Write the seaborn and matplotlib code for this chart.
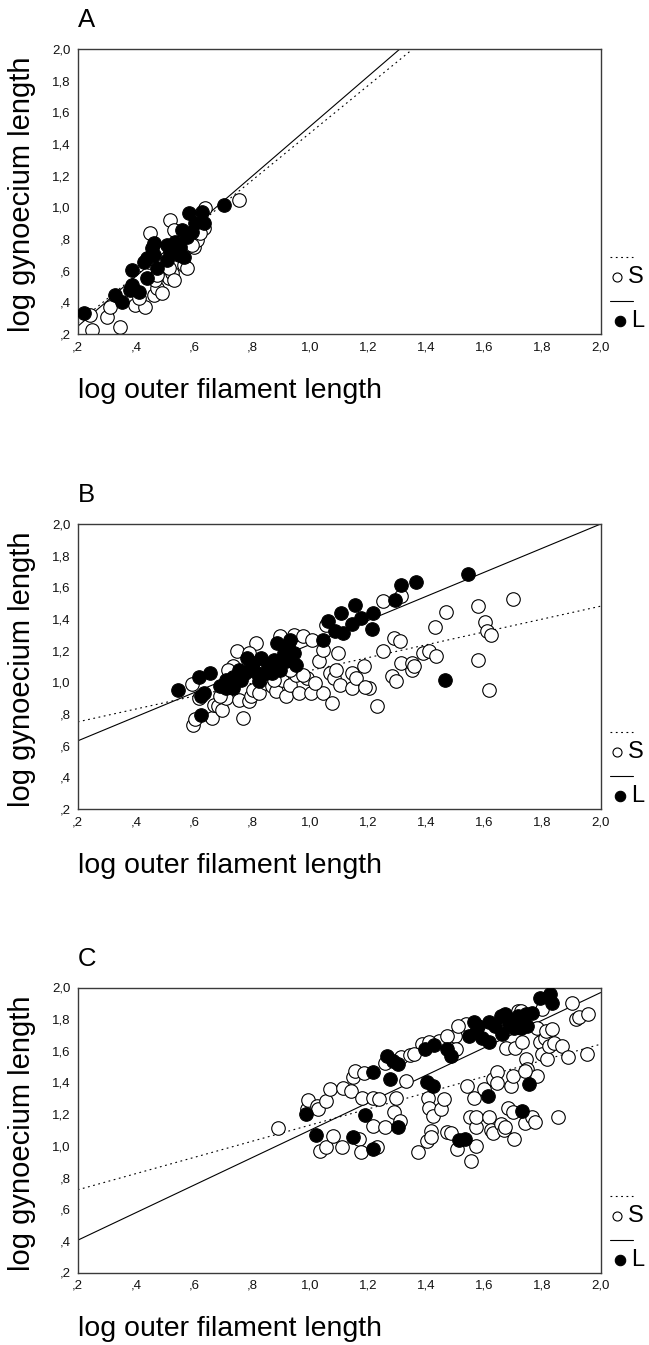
import matplotlib
matplotlib.use("Agg")
import matplotlib.pyplot as plt
import seaborn as sns
import numpy as np
from matplotlib.lines import Line2D

# ---------------- data ----------------
# Panel A
A_S_x = [0.243, 0.249, 0.301, 0.312, 0.347, 0.398, 0.433, 0.450, 0.462, 0.473, 0.490, 0.484,
         0.515, 0.519, 0.525, 0.530, 0.565, 0.599, 0.611, 0.634, 0.639, 0.754, 0.467, 0.513,
         0.410, 0.444, 0.576, 0.593, 0.473, 0.530, 0.622]
A_S_y = [0.320, 0.225, 0.309, 0.372, 0.246, 0.383, 0.372, 0.836, 0.446, 0.489, 0.457, 0.604,
         0.552, 0.920, 0.583, 0.857, 0.636, 0.751, 0.794, 0.868, 0.994, 1.046, 0.541, 0.615,
         0.425, 0.657, 0.615, 0.762, 0.573, 0.541, 0.836]
A_L_x = [0.221, 0.329, 0.352, 0.387, 0.387, 0.410, 0.438, 0.427, 0.456, 0.462, 0.473, 0.507,
         0.519, 0.536, 0.548, 0.559, 0.576, 0.582, 0.593, 0.628, 0.634, 0.702, 0.553, 0.565,
         0.507, 0.438, 0.462, 0.381, 0.605]
A_L_y = [0.331, 0.446, 0.404, 0.604, 0.509, 0.467, 0.552, 0.657, 0.741, 0.699, 0.615, 0.762,
         0.720, 0.783, 0.699, 0.857, 0.815, 0.962, 0.846, 0.972, 0.899, 1.015, 0.751, 0.688,
         0.667, 0.678, 0.773, 0.478, 0.899]

# Panel B
B_S_x = [0.594, 0.598, 0.605, 0.616, 0.662, 0.669, 0.683, 0.697, 0.711, 0.733, 0.747, 0.754,
         0.768, 0.790, 0.797, 0.804, 0.815, 0.825, 0.847, 0.868, 0.882, 0.896, 0.903, 0.918,
         0.932, 0.943, 0.953, 0.960, 0.974, 0.989, 1.003, 1.006, 1.031, 1.043, 1.045, 1.053,
         1.067, 1.074, 1.081, 1.095, 1.102, 1.145, 1.145, 1.185, 1.202, 1.230, 1.252, 1.252,
         1.280, 1.290, 1.294, 1.308, 1.313, 1.313, 1.351, 1.389, 1.408, 1.429, 1.432, 1.469,
         1.578, 1.578, 1.603, 1.607, 1.614, 1.621, 1.699, 0.790, 0.847, 0.875, 0.932, 0.974,
         0.719, 0.690, 1.017, 1.088, 1.159, 1.351, 1.358, 1.188]
B_S_y = [0.992, 0.733, 0.769, 0.901, 0.775, 0.859, 0.849, 0.828, 0.901, 1.101, 1.196, 0.891,
         0.775, 0.880, 0.912, 0.954, 1.248, 0.933, 0.996, 0.975, 0.943, 1.291, 1.017, 0.912,
         0.985, 1.301, 1.049, 0.933, 1.291, 1.027, 0.933, 1.270, 1.133, 1.206, 0.933, 1.364,
         1.059, 0.870, 1.027, 1.185, 0.985, 1.059, 0.964, 1.101, 0.964, 0.849, 1.512, 1.196,
         1.038, 1.280, 1.006, 1.259, 1.543, 1.122, 1.080, 1.185, 1.196, 1.347, 1.164, 1.442,
         1.480, 1.143, 1.379, 1.322, 0.950, 1.301, 1.526, 1.185, 1.059, 1.017, 1.080, 1.049,
         1.080, 0.912, 0.996, 1.080, 1.027, 1.122, 1.101, 0.970]
B_L_x = [0.545, 0.619, 0.655, 0.626, 0.626, 0.636, 0.690, 0.711, 0.733, 0.754, 0.761, 0.783,
         0.790, 0.804, 0.818, 0.832, 0.854, 0.875, 0.886, 0.896, 0.910, 0.925, 0.932, 0.946,
         0.953, 1.045, 1.060, 1.085, 1.105, 1.114, 1.145, 1.154, 1.174, 1.213, 1.216, 1.291,
         1.313, 1.365, 1.465, 1.543, 0.733, 0.847, 0.918, 0.825, 0.776, 0.711, 0.932, 0.868]
B_L_y = [0.950, 1.034, 1.059, 0.912, 0.796, 0.933, 0.975, 0.964, 1.034, 1.080, 1.017, 1.154,
         1.080, 1.122, 1.059, 1.154, 1.101, 1.143, 1.248, 1.080, 1.185, 1.227, 1.143, 1.185,
         1.112, 1.270, 1.385, 1.322, 1.438, 1.312, 1.371, 1.491, 1.406, 1.337, 1.438, 1.522,
         1.617, 1.632, 1.017, 1.684, 0.964, 1.059, 1.133, 1.006, 1.059, 1.017, 1.270, 1.059]

# Panel C
C_S_x = [0.889, 0.989, 0.992, 1.024, 1.028, 1.034, 1.053, 1.053, 1.067, 1.078, 1.109, 1.114,
         1.142, 1.148, 1.153, 1.168, 1.176, 1.178, 1.185, 1.216, 1.216, 1.230, 1.237, 1.256,
         1.259, 1.288, 1.294, 1.308, 1.313, 1.330, 1.344, 1.372, 1.384, 1.401, 1.404, 1.409,
         1.416, 1.416, 1.422, 1.443, 1.450, 1.460, 1.472, 1.486, 1.497, 1.503, 1.507, 1.535,
         1.540, 1.551, 1.555, 1.564, 1.571, 1.571, 1.571, 1.597, 1.614, 1.621, 1.628, 1.631,
         1.642, 1.644, 1.657, 1.668, 1.672, 1.674, 1.682, 1.692, 1.699, 1.699, 1.702, 1.706,
         1.730, 1.738, 1.744, 1.748, 1.763, 1.773, 1.780, 1.780, 1.791, 1.798, 1.810, 1.812,
         1.815, 1.823, 1.834, 1.838, 1.852, 1.867, 1.887, 1.901, 1.915, 1.927, 1.952, 1.955,
         1.508, 1.472, 1.714, 1.724, 1.408, 1.358, 1.798, 1.738]
C_S_y = [1.110, 1.232, 1.291, 1.253, 1.232, 0.969, 0.990, 1.284, 1.358, 1.063, 0.990, 1.368,
         1.347, 1.432, 1.474, 1.042, 0.962, 1.305, 1.457, 1.305, 1.126, 0.994, 1.295, 1.116,
         1.526, 1.211, 1.305, 1.158, 1.558, 1.411, 1.573, 0.958, 1.642, 1.032, 1.299, 1.236,
         1.095, 1.053, 1.189, 1.663, 1.232, 1.295, 1.088, 1.084, 1.695, 1.611, 0.983, 1.768,
         1.375, 1.185, 0.905, 1.305, 1.000, 1.116, 1.179, 1.358, 1.185, 1.101, 1.084, 1.421,
         1.467, 1.396, 1.137, 1.101, 1.116, 1.621, 1.242, 1.375, 1.442, 1.211, 1.046, 1.621,
         1.657, 1.147, 1.547, 1.484, 1.179, 1.152, 1.438, 1.747, 1.657, 1.579, 1.684, 1.726,
         1.547, 1.632, 1.741, 1.648, 1.185, 1.632, 1.558, 1.905, 1.800, 1.811, 1.579, 1.832,
         1.758, 1.695, 1.853, 1.853, 1.653, 1.579, 1.863, 1.474]
C_L_x = [0.986, 1.020, 1.148, 1.188, 1.216, 1.216, 1.266, 1.276, 1.285, 1.301, 1.304, 1.394,
         1.401, 1.422, 1.426, 1.472, 1.486, 1.512, 1.532, 1.546, 1.564, 1.571, 1.593, 1.612,
         1.614, 1.614, 1.657, 1.661, 1.672, 1.686, 1.700, 1.714, 1.724, 1.730, 1.742, 1.748,
         1.752, 1.791, 1.827, 1.834, 1.635, 1.763, 1.578]
C_L_y = [1.200, 1.067, 1.053, 1.196, 1.467, 0.979, 1.568, 1.421, 1.537, 1.516, 1.116, 1.611,
         1.404, 1.379, 1.636, 1.611, 1.568, 1.038, 1.046, 1.691, 1.779, 1.716, 1.678, 1.316,
         1.779, 1.653, 1.821, 1.705, 1.832, 1.768, 1.747, 1.821, 1.747, 1.221, 1.832, 1.758,
         1.390, 1.933, 1.958, 1.905, 1.758, 1.842, 1.758]

# regression lines: (intercept, slope) for S (dotted) and L (solid)
fit_S = {"A": (-0.030, 1.50), "B": (0.669, 0.406), "C": (0.620, 0.511)}
fit_L = {"A": (-0.068, 1.58), "B": (0.478, 0.761), "C": (0.230, 0.869)}

panels = ["A", "B", "C"]
groups = ["S", "L"]
tick_vals = [0.2, 0.4, 0.6, 0.8, 1.0, 1.2, 1.4, 1.6, 1.8, 2.0]
tick_labels = [",2", ",4", ",6", ",8", "1,0", "1,2", "1,4", "1,6", "1,8", "2,0"]
x_label = "log outer filament length"
y_label = "log gynoecium length"

data = {
    "A": (A_S_x, A_S_y, A_L_x, A_L_y),
    "B": (B_S_x, B_S_y, B_L_x, B_L_y),
    "C": (C_S_x, C_S_y, C_L_x, C_L_y),
}

# ---------------- figure ----------------
sns.set_style("white")
plt.rcParams["font.family"] = ["Liberation Sans", "DejaVu Sans"]
plt.rcParams["text.color"] = "black"
plt.rcParams["axes.labelcolor"] = "black"
plt.rcParams["xtick.color"] = "black"
plt.rcParams["ytick.color"] = "black"

W, H = 649, 1345
fig = plt.figure(figsize=(W / 100, H / 100), dpi=100)

ax_left_px, ax_right_px = 77.7, 600.7
ax_tops = {"A": 49, "B": 524, "C": 987.5}
ax_h_px = 285

def fx(px):
    return px / W

def fy(py):
    return 1 - py / H

for p in panels:
    top = ax_tops[p]
    ax = fig.add_axes([ax_left_px / W, 1 - (top + ax_h_px) / H,
                       (ax_right_px - ax_left_px) / W, ax_h_px / H])
    sx, sy, lx, ly = data[p]

    xs = np.array([0.2, 2.0])
    a, b = fit_S[p]
    ax.plot(xs, a + b * xs, color="black", lw=0.8, linestyle=(0, (1.6, 3.2)), zorder=1)
    a, b = fit_L[p]
    ax.plot(xs, a + b * xs, color="black", lw=0.8, linestyle="-", zorder=1)

    sns.scatterplot(x=sx, y=sy, ax=ax, s=95, color="white", edgecolor="black",
                    linewidth=0.8, zorder=2, legend=False)
    sns.scatterplot(x=lx, y=ly, ax=ax, s=95, color="black", edgecolor="black",
                    linewidth=0.8, zorder=3, legend=False)

    ax.set_xlim(0.2, 2.0)
    ax.set_ylim(0.2, 2.0)
    ax.set_xticks(tick_vals)
    ax.set_xticklabels(tick_labels)
    ax.set_yticks(tick_vals)
    ax.set_yticklabels(tick_labels)
    ax.tick_params(axis="both", direction="out", length=2.2, width=2.4, color="black",
                   labelsize=9.5, pad=3, labelcolor="#111111")
    for sp in ax.spines.values():
        sp.set_visible(True)
        sp.set_color("#3a3a3a")
        sp.set_linewidth(1.0)

    ax.set_xlabel(x_label, fontsize=20.5, ha="left", color="black")
    ax.xaxis.set_label_coords(0.0, -44 / ax_h_px)
    ax.xaxis.label.set_va("top")
    ax.set_ylabel(y_label, fontsize=21, color="black")
    ax.yaxis.label.set_va("center")
    ax.yaxis.set_label_coords(-56 / (ax_right_px - ax_left_px), 0.49)

    # panel letter
    fig.text(ax_left_px / W, fy(top - 17), p, fontsize=18.5, ha="left", va="bottom",
             color="black")

    # legend (SPSS style)
    bot = top + ax_h_px
    fig.add_artist(Line2D([fx(610), fx(633)], [fy(bot - 77)] * 2, color="black",
                          lw=0.8, linestyle=(0, (1.6, 3.2))))
    fig.add_artist(Line2D([fx(617)], [fy(bot - 57)], marker="o", markersize=6.5,
                          markerfacecolor="white", markeredgecolor="black", mew=0.8))
    fig.text(fx(628), fy(bot - 57), "S", fontsize=17, ha="left", va="center", color="black")
    fig.add_artist(Line2D([fx(610), fx(633)], [fy(bot - 33)] * 2, color="black", lw=0.8))
    fig.add_artist(Line2D([fx(620)], [fy(bot - 13)], marker="o", markersize=7.5,
                          markerfacecolor="black", markeredgecolor="black", mew=0.8))
    fig.text(fx(631), fy(bot - 13), "L", fontsize=17, ha="left", va="center", color="black")

fig.savefig("out.png", dpi=100)
